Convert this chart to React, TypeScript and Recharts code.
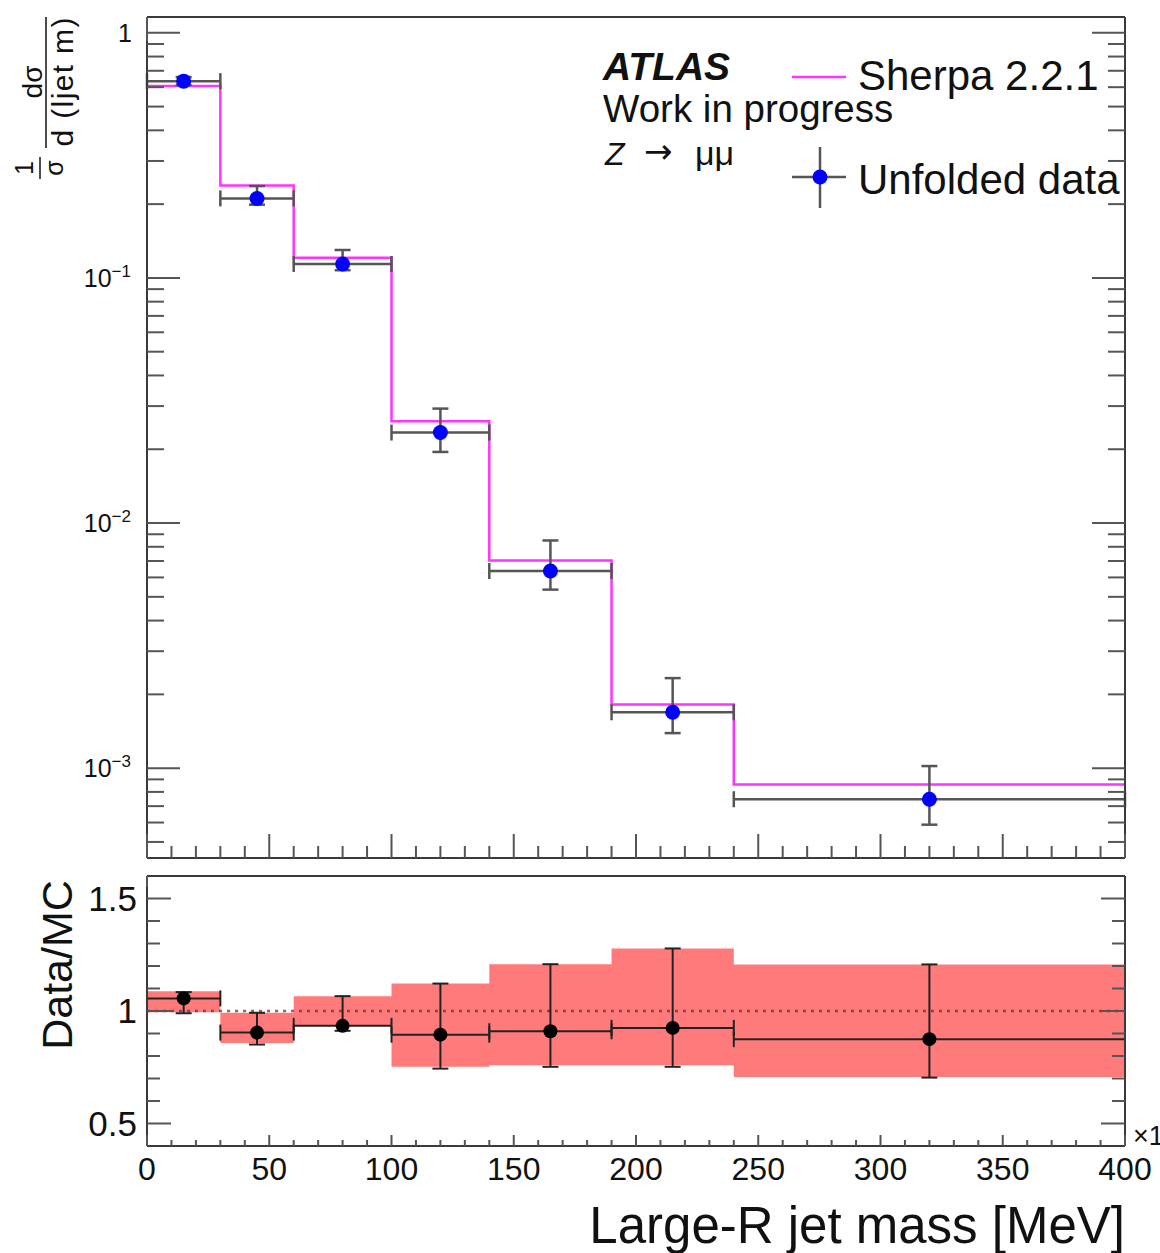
import React from 'react';
import { ComposedChart, XAxis, YAxis, Line, Area, Scatter, ErrorBar, ReferenceLine } from 'recharts';

const FONT = '"Liberation Sans", Arial, Helvetica, sans-serif';
const FRAME = '#3a3a3a';
const TICK = '#555555';
const TEXT = '#111111';

// ---- data ----
const binEdges = [0, 30, 60, 100, 140, 190, 240, 400];
const binCenters = [15, 45, 80, 120, 165, 215, 320];
const sherpaValues = [0.606, 0.238, 0.121, 0.026, 0.00703, 0.00182, 0.000857];
const dataValues = [0.635, 0.211, 0.114, 0.0234, 0.00637, 0.00169, 0.000747];
const dataErrLow = [0.612, 0.199, 0.1075, 0.0195, 0.00535, 0.00139, 0.000588];
const dataErrHigh = [0.66, 0.237, 0.13, 0.0293, 0.00849, 0.00233, 0.00102];

const ratioValues = [1.056, 0.904, 0.934, 0.895, 0.91, 0.925, 0.875];
const ratioErrLow = [0.99, 0.851, 0.912, 0.744, 0.752, 0.752, 0.704];
const ratioErrHigh = [1.084, 0.992, 1.066, 1.122, 1.208, 1.278, 1.207];
const bandLow = [0.995, 0.858, 0.934, 0.752, 0.759, 0.759, 0.707];
const bandHigh = [1.088, 0.992, 1.066, 1.122, 1.208, 1.278, 1.207];

const xMajorLabels = [0, 50, 100, 150, 200, 250, 300, 350, 400];
const xMinorStep = 10;
const logDecades = [0.0001, 0.001, 0.01, 0.1, 1];
const logDomain: [number, number] = [0.00043, 1.16];
const ratioTicks = [0.5, 0.6, 0.7, 0.8, 0.9, 1, 1.1, 1.2, 1.3, 1.4, 1.5];
const ratioMajor = [0.5, 1, 1.5];
const ratioDomain: [number, number] = [0.4, 1.6];

// ---- derived tables ----
const xTicks: number[] = [];
for (let v = 0; v <= 400; v += xMinorStep) xTicks.push(v);
const logTicks: number[] = [];
logDecades.forEach((d) => {
  for (let m = 1; m <= 9; m++) {
    const v = Number((m * d).toPrecision(3));
    if (v >= logDomain[0] && v <= logDomain[1]) logTicks.push(v);
  }
});

const sherpaStep = binEdges.map((x, i) => ({ x, y: sherpaValues[Math.min(i, sherpaValues.length - 1)] }));
const dataPoints = binCenters.map((x, i) => ({
  x,
  y: dataValues[i],
  ey: [dataValues[i] - dataErrLow[i], dataErrHigh[i] - dataValues[i]],
  ex: (binEdges[i + 1] - binEdges[i]) / 2,
}));
const ratioBand = binEdges.map((x, i) => {
  const j = Math.min(i, bandLow.length - 1);
  return { x, band: [bandLow[j], bandHigh[j]] };
});
const ratioPoints = binCenters.map((x, i) => ({
  x,
  y: ratioValues[i],
  ey: [ratioValues[i] - ratioErrLow[i], ratioErrHigh[i] - ratioValues[i]],
  ex: (binEdges[i + 1] - binEdges[i]) / 2,
}));

const isXMajor = (v: number) => xMajorLabels.includes(v);
const isLogMajor = (v: number) => Math.abs(Math.log10(v) - Math.round(Math.log10(v))) < 1e-9;

// ---- tick renderers (ROOT-style inward ticks) ----
const xTickRenderer = (dir: 1 | -1, majorLen: number, minorLen: number, labels: boolean) => (props: any) => {
  const { x, y, payload } = props;
  const v = payload.value;
  const major = isXMajor(v);
  const l = major ? majorLen : minorLen;
  return (
    <g>
      <line x1={x} x2={x} y1={y} y2={y + dir * l} stroke={TICK} strokeWidth={2} />
      {labels && major ? (
        <text x={x} y={y + 34} textAnchor="middle" fontSize={32} fontFamily={FONT} fill={TEXT}>
          {v}
        </text>
      ) : null}
    </g>
  );
};

const logTickRenderer = (dir: 1 | -1, labels: boolean) => (props: any) => {
  const { x, y, payload } = props;
  const v = payload.value;
  const major = isLogMajor(v);
  const l = major ? 33 : 17;
  let label: React.ReactNode = null;
  if (labels && major) {
    const e = Math.round(Math.log10(v));
    label =
      e === 0 ? (
        <text x={x - 15} y={y + 9} textAnchor="end" fontSize={25} fontFamily={FONT} fill={TEXT}>
          1
        </text>
      ) : (
        <text x={x - 16} y={y + 9} textAnchor="end" fontSize={25} fontFamily={FONT} fill={TEXT}>
          <tspan>10</tspan>
          <tspan dy={-10} fontSize={17}>{`\u2212${Math.abs(e)}`}</tspan>
        </text>
      );
  }
  return (
    <g>
      <line x1={x} x2={x + dir * l} y1={y} y2={y} stroke={TICK} strokeWidth={2} />
      {label}
    </g>
  );
};

const ratioTickRenderer = (dir: 1 | -1, labels: boolean) => (props: any) => {
  const { x, y, payload } = props;
  const v = payload.value;
  const major = ratioMajor.includes(v);
  const l = major ? 24 : 13;
  return (
    <g>
      <line x1={x} x2={x + dir * l} y1={y} y2={y} stroke={TICK} strokeWidth={2} />
      {labels && major ? (
        <text x={x - 10} y={y + 12} textAnchor="end" fontSize={35} fontFamily={FONT} fill={TEXT}>
          {String(v)}
        </text>
      ) : null}
    </g>
  );
};

const axisLine = { stroke: FRAME, strokeWidth: 2 };

const BlueDot = (p: any) => <circle cx={p.cx} cy={p.cy} r={7.5} fill="#0000ff" />;
const BlackDot = (p: any) => <circle cx={p.cx} cy={p.cy} r={7} fill="#000000" />;

function TopPanel() {
  return (
    <ComposedChart width={1160} height={875} data={sherpaStep} margin={{ top: 0, right: 0, bottom: 0, left: 0 }}>
      <XAxis
        xAxisId="b"
        dataKey="x"
        type="number"
        domain={[0, 400]}
        allowDataOverflow
        ticks={xTicks}
        interval={0}
        tickSize={0}
        tickMargin={0}
        height={17}
        axisLine={axisLine}
        tick={xTickRenderer(-1, 24, 12, false)}
      />
      <XAxis
        xAxisId="t"
        orientation="top"
        type="number"
        domain={[0, 400]}
        allowDataOverflow
        ticks={xTicks}
        interval={0}
        tickSize={0}
        tickMargin={0}
        height={17}
        axisLine={axisLine}
        tick={xTickRenderer(1, 24, 12, false)}
      />
      <YAxis
        yAxisId="l"
        type="number"
        scale="log"
        domain={logDomain}
        allowDataOverflow
        ticks={logTicks}
        interval={0}
        tickSize={0}
        tickMargin={0}
        width={147}
        axisLine={axisLine}
        tick={logTickRenderer(1, true)}
      />
      <YAxis
        yAxisId="r"
        orientation="right"
        type="number"
        scale="log"
        domain={logDomain}
        allowDataOverflow
        ticks={logTicks}
        interval={0}
        tickSize={0}
        tickMargin={0}
        width={35}
        axisLine={axisLine}
        tick={logTickRenderer(-1, false)}
      />
      <Line
        xAxisId="b"
        yAxisId="l"
        dataKey="y"
        type="stepAfter"
        stroke="#ff33ff"
        strokeWidth={2.5}
        dot={false}
        activeDot={false}
        isAnimationActive={false}
      />
      <Scatter
        xAxisId="b"
        yAxisId="l"
        data={dataPoints}
        dataKey="y"
        shape={BlueDot}
        isAnimationActive={false}
      >
        <ErrorBar dataKey="ex" direction="x" width={8} stroke="#555555" strokeWidth={2.5} />
        <ErrorBar dataKey="ey" direction="y" width={8} stroke="#555555" strokeWidth={2.5} />
      </Scatter>
    </ComposedChart>
  );
}

function RatioPanel() {
  return (
    <ComposedChart width={1160} height={393} data={ratioBand} margin={{ top: 0, right: 0, bottom: 0, left: 0 }}>
      <XAxis
        xAxisId="b"
        dataKey="x"
        type="number"
        domain={[0, 400]}
        allowDataOverflow
        ticks={xTicks}
        interval={0}
        tickSize={0}
        tickMargin={0}
        height={107}
        axisLine={axisLine}
        tick={xTickRenderer(-1, 11, 6, true)}
      />
      <XAxis
        xAxisId="t"
        orientation="top"
        type="number"
        domain={[0, 400]}
        allowDataOverflow
        ticks={xTicks}
        interval={0}
        tickSize={0}
        tickMargin={0}
        height={16}
        axisLine={axisLine}
        tick={xTickRenderer(1, 11, 6, false)}
      />
      <YAxis
        yAxisId="l"
        type="number"
        domain={ratioDomain}
        allowDataOverflow
        ticks={ratioTicks}
        interval={0}
        tickSize={0}
        tickMargin={0}
        width={147}
        axisLine={axisLine}
        tick={ratioTickRenderer(1, true)}
      />
      <YAxis
        yAxisId="r"
        orientation="right"
        type="number"
        domain={ratioDomain}
        allowDataOverflow
        ticks={ratioTicks}
        interval={0}
        tickSize={0}
        tickMargin={0}
        width={35}
        axisLine={axisLine}
        tick={ratioTickRenderer(-1, false)}
      />
      <Area
        xAxisId="b"
        yAxisId="l"
        dataKey="band"
        type="stepAfter"
        stroke="none"
        fill="#ff7b7b"
        fillOpacity={1}
        dot={false}
        activeDot={false}
        isAnimationActive={false}
      />
      <ReferenceLine
        xAxisId="b"
        yAxisId="l"
        y={1}
        stroke="#7a2a2a"
        strokeOpacity={0.75}
        strokeWidth={2.5}
        strokeDasharray="3 5"
      />
      <Scatter
        xAxisId="b"
        yAxisId="l"
        data={ratioPoints}
        dataKey="y"
        shape={BlackDot}
        isAnimationActive={false}
      >
        <ErrorBar dataKey="ex" direction="x" width={8} stroke="#222222" strokeWidth={2} />
        <ErrorBar dataKey="ey" direction="y" width={8} stroke="#222222" strokeWidth={2} />
      </Scatter>
    </ComposedChart>
  );
}

function Overlay() {
  return (
    <svg width={1160} height={1253} style={{ position: 'absolute', left: 0, top: 0, pointerEvents: 'none' }}>
      <g fontFamily={FONT} fill={TEXT}>
        {/* y-axis title, top panel */}
        <text transform="translate(33,168) rotate(-90)" textAnchor="middle" fontSize={25}>1</text>
        <line x1={40} x2={40} y1={157} y2={179} stroke={TEXT} strokeWidth={1.5} />
        <text transform="translate(63,168) rotate(-90)" textAnchor="middle" fontSize={25}>σ</text>
        <text transform="translate(42,82) rotate(-90)" textAnchor="middle" fontSize={28}>dσ</text>
        <line x1={46} x2={46} y1={17} y2={148} stroke={TEXT} strokeWidth={1.5} />
        <text transform="translate(73,82) rotate(-90)" textAnchor="middle" fontSize={30} textLength={129} lengthAdjust="spacing">
          d (ljet m)
        </text>

        {/* y-axis title, ratio panel */}
        <text transform="translate(72,965) rotate(-90)" textAnchor="middle" fontSize={43}>Data/MC</text>

        {/* x-axis title */}
        <text x={1125} y={1243} textAnchor="end" fontSize={51}>Large-R jet mass [MeV]</text>
        <text x={1133} y={1145} fontSize={27}>
          ×10<tspan dy={-10} fontSize={18}>3</tspan>
        </text>

        {/* ATLAS label */}
        <text x={603} y={80} fontSize={39} fontWeight="bold" fontStyle="italic">ATLAS</text>
        <text x={603} y={122} fontSize={38.5}>Work in progress</text>
        <text x={605} y={165} fontSize={32} fontStyle="italic">Z</text>
        <text x={644} y={163} fontSize={34} fontFamily='"DejaVu Sans", sans-serif'>→</text>
        <text x={695} y={165} fontSize={34}>μμ</text>

        {/* legend */}
        <line x1={792} x2={846} y1={77} y2={77} stroke="#ff33ff" strokeWidth={2.5} />
        <text x={858} y={90} fontSize={42}>Sherpa 2.2.1</text>
        <line x1={820} x2={820} y1={147} y2={208} stroke="#555555" strokeWidth={2.5} />
        <line x1={792} x2={846} y1={177} y2={177} stroke="#555555" strokeWidth={2.5} />
        <circle cx={820} cy={177} r={7.5} fill="#0000ff" />
        <text x={858} y={194} fontSize={42}>Unfolded data</text>
      </g>
    </svg>
  );
}

export default function App() {
  return (
    <div style={{ position: 'absolute', left: 0, top: 0, width: 1160, height: 1253, overflow: 'hidden', background: '#ffffff' }}>
      <div style={{ position: 'absolute', left: 0, top: 0 }}>
        <TopPanel />
      </div>
      <div style={{ position: 'absolute', left: 0, top: 860 }}>
        <RatioPanel />
      </div>
      <Overlay />
    </div>
  );
}
